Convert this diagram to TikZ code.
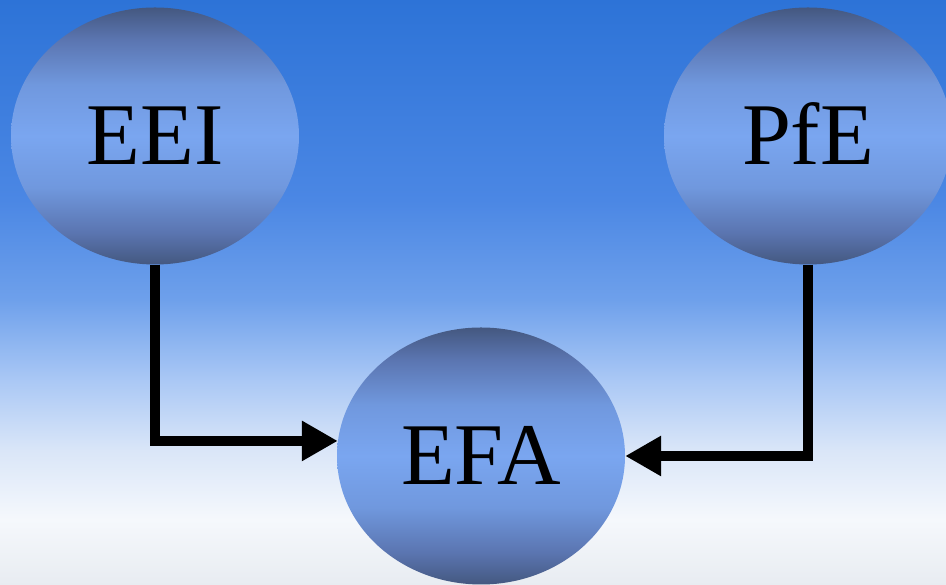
\documentclass[tikz,border=0pt]{standalone}
\usepackage{fontspec}
\setmainfont{Liberation Serif}
\usetikzlibrary{shapes.geometric,arrows.meta}

\definecolor{skytop}{RGB}{45,115,215}
\definecolor{skyupper}{RGB}{75,135,228}
\definecolor{skymid}{RGB}{110,160,235}
\definecolor{skylow}{RGB}{170,200,245}
\definecolor{skypale}{RGB}{218,230,248}
\definecolor{skywhite}{RGB}{245,248,252}
\definecolor{skybot}{RGB}{232,236,241}
\definecolor{balldark}{RGB}{68,88,128}
\definecolor{ballmid}{RGB}{90,116,175}
\definecolor{ballsoft}{RGB}{112,152,222}
\definecolor{balllight}{RGB}{122,166,240}

\pgfdeclareverticalshading{sky}{100bp}{color(0bp)=(skybot); color(25bp)=(skybot);
  color(30.6bp)=(skywhite); color(36.5bp)=(skypale); color(42.5bp)=(skylow);
  color(49.4bp)=(skymid); color(57.9bp)=(skyupper); color(75bp)=(skytop); color(100bp)=(skytop)}
\pgfdeclareverticalshading{ballshade}{100bp}{color(0bp)=(balldark); color(25bp)=(balldark);
  color(31bp)=(ballmid); color(40bp)=(ballsoft); color(50bp)=(balllight);
  color(60bp)=(ballsoft); color(69bp)=(ballmid); color(75bp)=(balldark); color(100bp)=(balldark)}

\begin{document}
\begin{tikzpicture}[x=1pt,y=1pt,
  ball/.style={ellipse, minimum width=288pt, minimum height=257pt, inner sep=0pt,
    shading=ballshade, font=\fontsize{88}{88}\selectfont, text height=58pt, text depth=0pt},
  link/.style={line width=10.5pt, line join=miter, -{Triangle[length=36pt,width=38pt]}}]
\shade[shading=sky] (0,0) rectangle (946,585);
\useasboundingbox (0,0) rectangle (946,585);
\node[ball] (eei) at (155,449) {EEI};
\node[ball] (pfe) at (808,449) {PfE};
\node[ball] (efa) at (481,129) {EFA};
\draw[link] (eei.south) |- (efa.174);
\draw[link] (pfe.south) |- (efa.east);
\end{tikzpicture}
\end{document}
